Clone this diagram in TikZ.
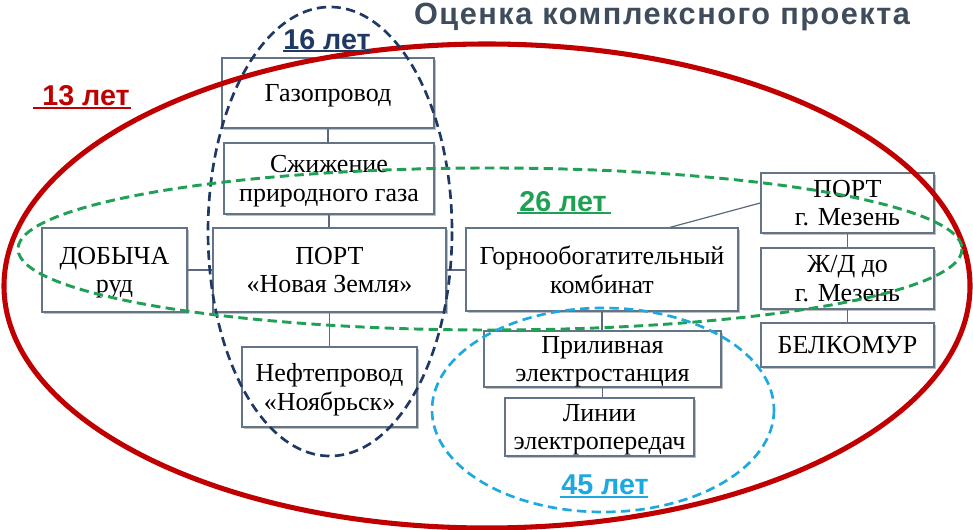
\documentclass[tikz,border=0pt]{standalone}
\usepackage{fontspec}
\setmainfont{Liberation Serif}
\setsansfont{Liberation Sans}
\usetikzlibrary{calc,shadows}
\definecolor{ered}{RGB}{192,0,0}
\definecolor{enavy}{RGB}{31,56,100}
\definecolor{egreen}{RGB}{32,160,84}
\definecolor{ecyan}{RGB}{30,168,224}
\definecolor{etitle}{RGB}{62,76,92}
\definecolor{eborder}{RGB}{100,116,135}
\definecolor{econn}{RGB}{90,105,125}
\tikzset{
  box/.style={draw=eborder, line width=1.1pt, fill=white, inner sep=0pt, align=center,
    text depth=0pt,
    font=\fontsize{19.5}{21.5}\selectfont,
    drop shadow={shadow xshift=1.5pt, shadow yshift=-1.5pt, fill=black, opacity=0.25}},
  conn/.style={draw=econn, line width=0.9pt},
  lbl/.style={font=\sffamily\bfseries\fontsize{21.5}{23}\selectfont, inner sep=0pt},
  uline/.style={line width=1.3pt},
  ell/.style={line width=2pt, dash pattern=on 7pt off 4pt},
}
\newcommand\mkbox[6]{\node[box, minimum width={(#4-#2)*0.75pt}, minimum height={(#5-#3)*0.75pt}] (#1) at ({(#2+#4)/2},{(#3+#5)/2}) {#6};}
\begin{document}
\begin{tikzpicture}[x=0.75pt,y=-0.75pt]
\useasboundingbox (0,0) rectangle (973,530);
% boxes
\mkbox{gaz}{222}{58}{434}{128}{Газопровод}
\mkbox{szh}{224}{143}{434}{214}{Сжижение\\природного газа}
\mkbox{portnz}{213}{228}{446}{312}{ПОРТ\\«Новая Земля»}
\mkbox{dob}{42}{228}{187}{312}{ДОБЫЧА\\руд}
\mkbox{gorno}{466}{228}{738}{311}{Горнообогатительный\\комбинат}
\mkbox{portm}{761}{173}{934}{233}{ПОРТ\\г. Мезень}
\mkbox{zhd}{761}{248}{934}{309}{Ж/Д до\\г. Мезень}
\mkbox{belk}{761}{323}{934}{367}{БЕЛКОМУР}
\mkbox{neft}{242}{347}{417}{427}{Нефтепровод\\«Ноябрьск»}
\mkbox{pril}{484}{331}{721}{387}{Приливная\\электростанция}
\mkbox{lin}{505}{398}{694}{456}{Линии\\электропередач}
% connectors
\draw[conn] (gaz.south) -- (gaz.south |- szh.north);
\draw[conn] (szh.south) -- (szh.south |- portnz.north);
\draw[conn] (dob.east) -- (dob.east -| portnz.west);
\draw[conn] (portnz.east) -- (portnz.east -| gorno.west);
\draw[conn] (portnz.south) -- (portnz.south |- neft.north);
\draw[conn] (gorno.south) -- (gorno.south |- pril.north);
\draw[conn] (pril.south) -- (pril.south |- lin.north);
\draw[conn] (portm.south) -- (portm.south |- zhd.north);
\draw[conn] (zhd.south) -- (zhd.south |- belk.north);
\coordinate (gtop) at ($(gorno.north west)!0.75!(gorno.north east)$);
\draw[conn] (gtop) -- (portm.west);
% ellipses
\draw[ered, line width=3.8pt] (487,286) ellipse [x radius=483, y radius=242];
\draw[enavy, ell] (330,231.5) ellipse [x radius=122, y radius=224.5];
\draw[egreen, ell, line width=2.2pt] (490,249) ellipse [x radius=472, y radius=81];
\draw[ecyan, ell] (603,410) ellipse [x radius=171, y radius=102];
% labels
\node[anchor=north, font=\sffamily\bfseries\fontsize{23}{25}\selectfont, text=etitle, inner sep=0pt] (title) at (662,3) {\addfontfeatures{LetterSpace=5}Оценка комплексного проекта};
\node[lbl, text=enavy] (l16) at (327,40) {16 лет};
\draw[enavy, uline] (283,51) -- (372,51);
\node[lbl, text=ered] (l13) at (86,96) {13 лет};
\draw[ered, uline] (33,108) -- (131,108);
\node[lbl, text=egreen] (l26) at (563,202) {26 лет};
\draw[egreen, uline] (517,213) -- (611,213);
\node[lbl, text=ecyan] (l45) at (605,485) {45 лет};
\draw[ecyan, uline] (560,497) -- (648,497);
\end{tikzpicture}
\end{document}
